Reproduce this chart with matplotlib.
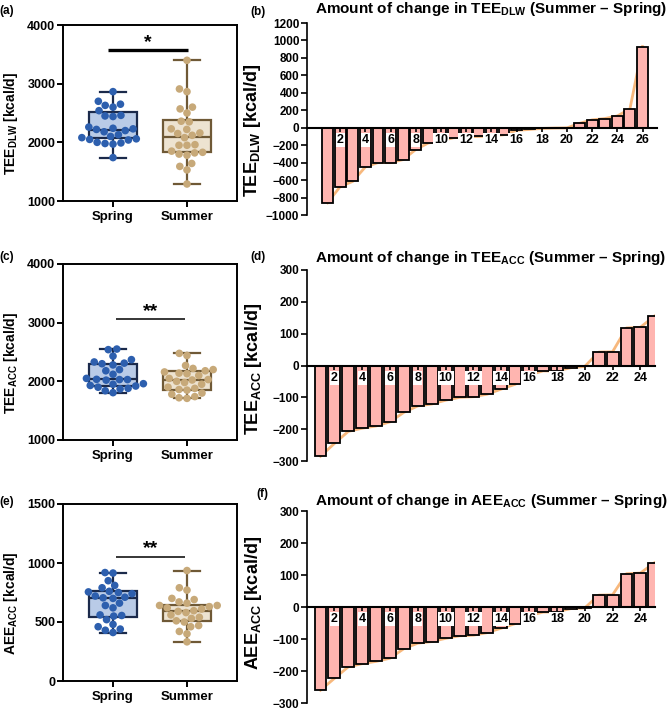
import matplotlib
matplotlib.use("Agg")
import matplotlib.pyplot as plt
import numpy as np

plt.rcParams['font.family'] = ['Liberation Sans', 'DejaVu Sans']
plt.rcParams['font.weight'] = 'bold'
plt.rcParams['axes.labelweight'] = 'bold'
plt.rcParams['mathtext.fontset'] = 'custom'
plt.rcParams['mathtext.rm'] = 'Liberation Sans:bold'
plt.rcParams['mathtext.bf'] = 'Liberation Sans:bold'
plt.rcParams['mathtext.default'] = 'rm'

# === DATA ===
seasons = ['Spring', 'Summer']

# individual values (kcal/d)
spring_tee_dlw = [2864, 2700, 2650, 2630, 2600, 2540, 2460, 2450, 2440, 2260, 2240, 2230, 2220,
                  2200, 2180, 2130, 2100, 2080, 2060, 2050, 2040, 2000, 1990, 1980, 1970, 1740]
summer_tee_dlw = [3398, 2910, 2864, 2600, 2570, 2500, 2360, 2350, 2230, 2220, 2160, 2150, 2120,
                  2080, 1960, 1950, 1950, 1850, 1830, 1820, 1800, 1780, 1640, 1590, 1530, 1290]
spring_tee_acc = [2550, 2540, 2430, 2370, 2330, 2310, 2300, 2280, 2200, 2180, 2120, 2050, 2034,
                  2030, 2030, 2020, 1960, 1950, 1930, 1920, 1900, 1880, 1870, 1840, 1807]
summer_tee_acc = [2477, 2440, 2270, 2220, 2200, 2180, 2160, 2140, 2130, 2100, 2050, 2030, 2023,
                  2000, 1980, 1950, 1900, 1880, 1860, 1850, 1800, 1780, 1740, 1720, 1710]
spring_aee_acc = [919, 915, 850, 810, 790, 760, 755, 750, 740, 720, 710, 705, 700,
                  660, 640, 620, 560, 555, 550, 520, 480, 460, 440, 430, 411]
summer_aee_acc = [936, 790, 770, 700, 690, 670, 660, 640, 640, 630, 620, 610, 596,
                  590, 580, 560, 540, 530, 510, 500, 470, 460, 420, 400, 332]

# box stats: min, Q1, median, Q3, max
spring_tee_dlw_box = [1740, 2068, 2210, 2511, 2864]
summer_tee_dlw_box = [1290, 1841, 2097, 2381, 3398]
spring_tee_acc_box = [1807, 1920, 2034, 2295, 2545]
summer_tee_acc_box = [1710, 1852, 2023, 2182, 2477]
spring_aee_acc_box = [411, 545, 700, 766, 919]
summer_aee_acc_box = [332, 508, 596, 644, 936]

# sorted individual change (Summer - Spring)
diff_tee_dlw = [-860, -675, -615, -450, -400, -400, -365, -250, -175, -150, -115, -105, -100,
                -95, -80, -30, -20, -8, -4, -2, 50, 90, 105, 135, 215, 930]
diff_tee_acc = [-285, -245, -207, -197, -190, -177, -147, -127, -121, -109, -100, -98, -90,
                -74, -59, -30, -17, -17, -7, -3, 42, 43, 118, 120, 155]
diff_aee_acc = [-260, -223, -187, -177, -170, -160, -130, -113, -108, -98, -90, -88, -80,
                -66, -52, -27, -16, -15, -5, -3, 37, 38, 104, 106, 138]

# === STYLE ===
W, H = 669, 711
dot_colors = ['#2d5fae', '#c7a979']
box_faces = ['#b9cbe7', '#ede3d1']
box_edges = ['#1b2a4b', '#6f5936']
bar_face = '#ffb5b0'
trend_color = '#f5a052'

fig = plt.figure(figsize=(W / 100, H / 100), dpi=100)


def px_axes(left, top, right, bottom):
    return fig.add_axes([left / W, 1 - bottom / H, (right - left) / W, (bottom - top) / H])


def swarm_x(ax, center, values, d):
    # simple beeswarm in pixel space
    pts = ax.transData.transform(np.column_stack([np.full(len(values), center), values]))
    x0 = pts[0, 0]
    placed = []
    out = np.empty(len(values))
    for i in np.argsort(values):
        y = pts[i, 1]
        near = [(px, py) for px, py in placed if abs(py - y) < d]
        cands = [x0]
        for px, py in near:
            dx = np.sqrt(d ** 2 - (py - y) ** 2)
            cands += [px - dx, px + dx]
        cands.sort(key=lambda c: abs(c - x0))
        for c in cands:
            if all((c - px) ** 2 + (y - py) ** 2 >= d ** 2 - 1e-6 for px, py in near):
                break
        placed.append((c, y))
        out[i] = c
    return ax.transData.inverted().transform(np.column_stack([out, pts[:, 1]]))[:, 0]


def box_panel(rect, groups, boxes, ylim, yticks, ylabel, sig_x, sig_y, star_y, stars, sig_lw):
    ax = px_axes(*rect)
    ax.set_xlim(-0.676, 1.676)
    ax.set_ylim(*ylim)
    stats = [dict(whislo=b[0], q1=b[1], med=b[2], q3=b[3], whishi=b[4], fliers=[]) for b in boxes]
    for k in range(2):
        ax.bxp([stats[k]], positions=[k], widths=0.64, capwidths=0.36, patch_artist=True,
               showfliers=False,
               boxprops=dict(facecolor=box_faces[k], edgecolor=box_edges[k], linewidth=1.6),
               medianprops=dict(color=box_edges[k], linewidth=1.6),
               whiskerprops=dict(color=box_edges[k], linewidth=1.6),
               capprops=dict(color=box_edges[k], linewidth=1.6))
        xs = swarm_x(ax, k, groups[k], 8.0)
        ax.scatter(xs, groups[k], s=30, color=dot_colors[k], edgecolors='none', zorder=3)
    ax.set_xticks([0, 1])
    ax.set_xticklabels(seasons, fontsize=9.5)
    ax.set_yticks(yticks)
    ax.tick_params(axis='y', labelsize=9, length=4, width=1.4, pad=1.5)
    ax.tick_params(axis='x', length=4, width=1.4, pad=3)
    for sp in ax.spines.values():
        sp.set_linewidth(1.4)
    ax.set_ylabel(ylabel, fontsize=10, fontweight='bold')
    ax.yaxis.set_label_coords(-0.245, 0.44)
    ax.plot(sig_x, [sig_y, sig_y], color='black', lw=sig_lw, solid_capstyle='butt')
    ax.text(np.mean(sig_x), star_y, stars, ha='center', va='center', fontsize=14)
    return ax


def bar_panel(rect, diffs, ylim, yticks, xlim, ylabel, title, title_y, label_y):
    ax = px_axes(*rect)
    pos = np.arange(1, len(diffs) + 1)
    ax.plot(pos, diffs, color=trend_color, lw=2, alpha=0.75, zorder=0.5)
    ax.bar(pos, diffs, width=0.86, color=bar_face, edgecolor='black', linewidth=1.3, zorder=1)
    ax.set_xlim(*xlim)
    ax.set_ylim(*ylim)
    ax.set_yticks(yticks)
    ax.set_xticks(pos[1::2])
    ax.spines['top'].set_visible(False)
    ax.spines['right'].set_visible(False)
    ax.spines['bottom'].set_position(('data', 0))
    ax.spines['bottom'].set_linewidth(1.5)
    ax.spines['left'].set_linewidth(1.2)
    ax.tick_params(axis='y', labelsize=8.5, length=4, width=1.2, pad=1.5)
    ax.tick_params(axis='x', labelsize=9, length=3, width=1.2, pad=1.5)
    for lbl in ax.get_xticklabels():
        lbl.set_bbox(dict(facecolor='white', edgecolor='none', pad=0.8))
    ax.set_ylabel(ylabel, fontsize=13, fontweight='bold')
    ax.yaxis.set_label_coords(-0.125, label_y)
    fig.text(491 / W, 1 - title_y / H, title, ha='center', va='center', fontsize=11)
    return ax


box_panel((63, 25, 237, 201), [spring_tee_dlw, summer_tee_dlw],
          [spring_tee_dlw_box, summer_tee_dlw_box], (1000, 4000), [1000, 2000, 3000, 4000],
          'TEE$_{\\mathrm{DLW}}$ [kcal/d]', [-0.07, 1.01], 3570, 3700, '*', 2.4)
box_panel((63, 264, 237, 440), [spring_tee_acc, summer_tee_acc],
          [spring_tee_acc_box, summer_tee_acc_box], (1000, 4000), [1000, 2000, 3000, 4000],
          'TEE$_{\\mathrm{ACC}}$ [kcal/d]', [0.04, 0.97], 3060, 3190, '**', 1.1)
box_panel((63, 504, 237, 681), [spring_aee_acc, summer_aee_acc],
          [spring_aee_acc_box, summer_aee_acc_box], (0, 1500), [0, 500, 1000, 1500],
          'AEE$_{\\mathrm{ACC}}$ [kcal/d]', [0.04, 0.97], 1050, 1120, '**', 1.1)

bar_panel((307, 23, 657, 215), diff_tee_dlw, (-1000, 1200), np.arange(-1000, 1201, 200),
          (-0.63, 27.15), 'TEE$_{\\mathrm{DLW}}$ [kcal/d]',
          'Amount of change in TEE$_{\\mathrm{DLW}}$ (Summer \u2013 Spring)', 9, 0.44)
bar_panel((307, 270, 655, 461), diff_tee_acc, (-300, 300), np.arange(-300, 301, 100),
          (0.03, 25.05), 'TEE$_{\\mathrm{ACC}}$ [kcal/d]',
          'Amount of change in TEE$_{\\mathrm{ACC}}$ (Summer \u2013 Spring)', 258, 0.48)
bar_panel((307, 511, 655, 703), diff_aee_acc, (-300, 300), np.arange(-300, 301, 100),
          (0.03, 25.05), 'AEE$_{\\mathrm{ACC}}$ [kcal/d]',
          'Amount of change in AEE$_{\\mathrm{ACC}}$ (Summer \u2013 Spring)', 501, 0.52)

# panel letters
for lab, x, y in [('(a)', 7, 11), ('(b)', 258, 12), ('(c)', 7, 257),
                  ('(d)', 258, 257), ('(e)', 7, 502), ('(f)', 262, 494)]:
    fig.text(x / W, 1 - y / H, lab, ha='center', va='center', fontsize=8.5)

fig.savefig('out.png', dpi=100)
